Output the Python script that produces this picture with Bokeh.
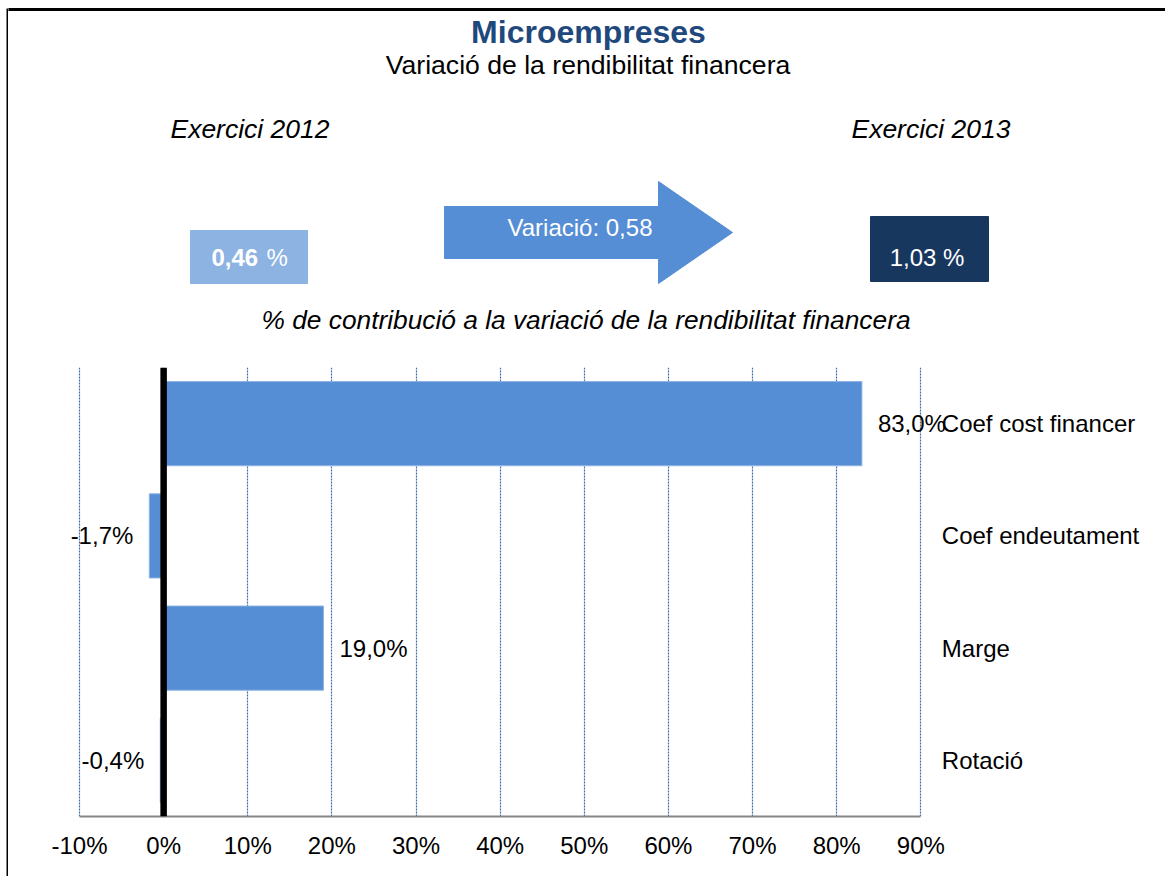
from bokeh.plotting import figure
from bokeh.models import (Range1d, FactorRange, ColumnDataSource, Span, FixedTicker,
                          NumeralTickFormatter, LinearAxis, Spacer)
from bokeh.layouts import row, column
from bokeh.embed import file_html
from bokeh.resources import INLINE
from bokeh.core.properties import value

# ---------------- data ----------------
title = "Microempreses"
subtitle = "Variació de la rendibilitat financera"
year_labels = ["Exercici 2012", "Exercici 2013"]
rf_2012 = "0,46"
rf_2013 = "1,03"
variation = "0,58"
section_title = "% de contribució a la variació de la rendibilitat financera"

categories = ["Coef cost financer", "Coef endeutament", "Marge", "Rotació"]
contributions = [0.830, -0.017, 0.190, -0.004]
x_ticks = [-0.1, 0.0, 0.1, 0.2, 0.3, 0.4, 0.5, 0.6, 0.7, 0.8, 0.9]

# ---------------- style / layout constants ----------------
FONT = "Liberation Sans"
BAR = "#558ED5"
W = 1157            # width of the two stacked figures
HT = 350            # header height
HB = 876 - HT       # chart figure height
PX_PER_UNIT = 841.3 # pixels per 100 %
AX_LEFT_PX = 71     # distance (figure px) from figure left edge to -10 % gridline

def txt(fig, x, y, t, size, color="black", style="normal", align="center"):
    fig.text(x=[x], y=[y], text=[t], text_align=align, text_baseline="middle",
             text_font=value(FONT), text_font_size=size, text_font_style=style,
             text_color=color)

# ---------------- left border strip ----------------
strip = figure(width=2, height=868, toolbar_location=None, output_backend="svg",
               min_border=0, x_range=(0, 1), y_range=(0, 1))
strip.axis.visible = False
strip.grid.visible = False
strip.outline_line_color = None
strip.background_fill_color = "black"
strip.border_fill_color = "black"

# ---------------- header figure (pixel coordinates) ----------------
top = figure(width=W, height=HT, toolbar_location=None, output_backend="svg",
             min_border=0, x_range=Range1d(0, W), y_range=Range1d(HT, 0))
top.axis.visible = False
top.grid.visible = False
top.outline_line_color = None

top.quad(left=[-2], right=[W], top=[8], bottom=[10], color="black")

txt(top, 580, 31.5, title, "32px", color="#1F497D", style="bold")
txt(top, 579.5, 64.5, subtitle, "26.6px")
txt(top, 241.5, 128.5, year_labels[0], "26.5px", style="italic")
txt(top, 922.5, 128.5, year_labels[1], "26.5px", style="italic")

# value boxes
top.quad(left=[182], right=[299], top=[230], bottom=[283], color="#8DB3E2")
txt(top, 203, 257, rf_2012, "24px", color="white", style="bold", align="left")
txt(top, 258, 257, "%", "24px", color="white", align="left")

top.quad(left=[862], right=[980], top=[216], bottom=[281], color="#17375E")
txt(top, 918.5, 257, rf_2013 + " %", "24px", color="white")

# arrow
top.patch(x=[436, 650, 650, 724, 650, 650, 436], y=[206, 206, 181, 232, 283, 258, 258],
          color=BAR)
txt(top, 571.5, 227, "Variació: " + variation, "24px", color="white")

txt(top, 577.5, 319.5, section_title, "26.3px", style="italic")

# ---------------- bar chart ----------------
x_start = x_ticks[0] - AX_LEFT_PX / PX_PER_UNIT
x_end = x_start + W / PX_PER_UNIT
factors = list(reversed(categories))
p = figure(width=W, height=HB, toolbar_location=None, output_backend="svg",
           x_range=Range1d(x_start, x_end), y_range=FactorRange(*factors, range_padding=0),
           x_axis_location=None, y_axis_location=None,
           min_border_left=0, min_border_right=0, min_border_top=17, min_border_bottom=60)
p.outline_line_color = None

src = ColumnDataSource(dict(
    cat=categories,
    val=contributions,
    lab=[(f"{v * 100:.1f}%").replace(".", ",") for v in contributions],
    align=["left" if v >= 0 else "right" for v in contributions],
    off=[16 if v >= 0 else -16 for v in contributions],
))

p.hbar(y="cat", left=0, right="val", height=0.75, source=src,
       fill_color=BAR, line_color="#8EB4E3", line_width=1)

p.text(x="val", y="cat", text="lab", x_offset="off", text_align="align",
       text_baseline="middle", source=src, text_font=value(FONT),
       text_font_size="24px", text_color="black")

# category names on the right of the plot area
p.text(x=[x_ticks[-1]] * len(categories), y=categories, text=categories, x_offset=21,
       text_align="left", text_baseline="middle", text_font=value(FONT),
       text_font_size="24px", text_color="black")

p.add_layout(Span(location=0, dimension="height", line_color="black", line_width=6.5))

xaxis = LinearAxis(ticker=FixedTicker(ticks=x_ticks),
                   formatter=NumeralTickFormatter(format="0%"),
                   bounds=(x_ticks[0], x_ticks[-1]))
xaxis.axis_line_color = "#868686"
xaxis.axis_line_width = 2
xaxis.major_tick_line_color = None
xaxis.minor_tick_line_color = None
xaxis.major_label_standoff = 9
xaxis.major_label_text_font = FONT
xaxis.major_label_text_font_size = "24px"
xaxis.major_label_text_color = "black"
p.add_layout(xaxis, "below")

p.xgrid.ticker = FixedTicker(ticks=x_ticks)
p.xgrid.grid_line_color = "#3E6DB0"
p.xgrid.grid_line_dash = "2 1"
p.xgrid.grid_line_width = 1.2
p.ygrid.visible = False

layout = row(Spacer(width=6, height=876),
             column(Spacer(width=2, height=8), strip, spacing=0),
             column(top, p, spacing=0), spacing=0)
open("out.html", "w").write(file_html(layout, INLINE))
